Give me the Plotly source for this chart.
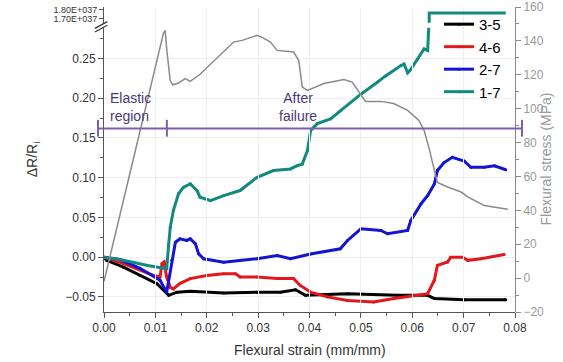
import plotly.graph_objects as go

# ---------------- data ----------------
stress_strain = [0.0, 0.0057, 0.01157, 0.0119, 0.01223, 0.01288, 0.01337, 0.01444, 0.0158, 0.01678,
                 0.0187, 0.02523, 0.02687, 0.0298, 0.0308, 0.0324, 0.0337, 0.0369, 0.0379, 0.0386,
                 0.0396, 0.0428, 0.0467, 0.0483, 0.0496, 0.0509, 0.0539, 0.0564, 0.0591, 0.0613,
                 0.0623, 0.0633, 0.0643, 0.0649, 0.0669, 0.0695, 0.0708, 0.0740, 0.0786]
stress_mpa = [-2.0, 69.5, 144.5, 146.2, 134.4, 116.7, 114.1, 115.0, 117.7, 116.1,
              120.3, 139.3, 140.3, 143.3, 142.1, 139.3, 134.4, 133.4, 128.5, 112.8,
              110.8, 114.8, 117.2, 115.7, 109.7, 104.3, 104.3, 103.0, 99.0, 93.1,
              87.2, 76.4, 63.6, 56.5, 53.8, 50.8, 47.9, 42.9, 40.6]

s35_x = [0.0, 0.0005, 0.0038, 0.007, 0.0103, 0.0126, 0.0142, 0.0168, 0.0233, 0.0298, 0.0343,
         0.0373, 0.0392, 0.0474, 0.0571, 0.063, 0.0643, 0.0701, 0.0782]
s35_y = [0.0, -0.004, -0.0126, -0.023, -0.0334, -0.048, -0.044, -0.043, -0.045, -0.044, -0.044,
         -0.041, -0.048, -0.046, -0.048, -0.048, -0.052, -0.0535, -0.0535]

s46_x = [0.0, 0.0038, 0.0096, 0.0109, 0.0113, 0.0117, 0.0122, 0.0129, 0.0135, 0.0148, 0.0168,
         0.020, 0.0233, 0.0256, 0.0265, 0.0298, 0.0337, 0.0369, 0.0382, 0.0402, 0.0435, 0.0474,
         0.0525, 0.0564, 0.061, 0.063, 0.0643, 0.0649, 0.0669, 0.0675, 0.0698, 0.0708, 0.0734, 0.0779]
s46_y = [0.0, -0.008, -0.023, -0.025, -0.008, -0.006, -0.025, -0.038, -0.040, -0.033, -0.027,
         -0.023, -0.021, -0.021, -0.025, -0.025, -0.027, -0.027, -0.0356, -0.044, -0.050, -0.0544,
         -0.0565, -0.052, -0.048, -0.046, -0.029, -0.0104, -0.006, 0.0, 0.0, -0.004, -0.002, 0.0034]

s27_x = [0.0, 0.0031, 0.007, 0.0109, 0.0122, 0.0132, 0.0139, 0.0148, 0.0161, 0.0168, 0.0178,
         0.0184, 0.0194, 0.0233, 0.0265, 0.0298, 0.0337, 0.0363, 0.0402, 0.046, 0.0474, 0.050,
         0.0539, 0.0552, 0.0591, 0.0597, 0.0617, 0.063, 0.0643, 0.0649, 0.0662, 0.0678, 0.0701,
         0.0714, 0.074, 0.076, 0.0782]
s27_y = [0.0, -0.003, -0.014, -0.029, -0.044, -0.004, 0.0188, 0.0231, 0.021, 0.023, 0.0168,
         0.0043, -0.002, -0.0063, -0.004, -0.002, 0.002, -0.002, 0.004, 0.0105, 0.021, 0.0357,
         0.0335, 0.0294, 0.0335, 0.046, 0.067, 0.0775, 0.092, 0.109, 0.119, 0.1256, 0.121,
         0.113, 0.113, 0.115, 0.110]

s17_x = [0.0, 0.0038, 0.0085, 0.0116, 0.0122, 0.0126, 0.0129, 0.0135, 0.0145, 0.0155, 0.0168,
         0.0181, 0.0187, 0.0207, 0.0233, 0.0265, 0.0298, 0.0330, 0.0363, 0.0376, 0.0386, 0.0396,
         0.0402, 0.0415, 0.0441, 0.046, 0.050, 0.0532, 0.0548, 0.0578, 0.0584, 0.0591, 0.0597,
         0.061, 0.0623, 0.063, 0.0633]
s17_y = [0.0, -0.004, -0.0104, -0.0133, -0.0146, 0.0168, 0.0377, 0.0587, 0.0797, 0.088, 0.0922,
         0.0838, 0.0754, 0.0712, 0.0775, 0.0838, 0.1005, 0.109, 0.111, 0.115, 0.117, 0.134,
         0.159, 0.168, 0.174, 0.184, 0.205, 0.220, 0.228, 0.241, 0.243, 0.232, 0.236,
         0.249, 0.262, 0.260, 0.30]
s17_fail_x = [0.0633, 0.0633, 0.0782]
s17_fail_y = [1.5e37, 1.765e37, 1.765e37]

x_ticks = [0.00, 0.01, 0.02, 0.03, 0.04, 0.05, 0.06, 0.07, 0.08]
left_ticks = [-0.05, 0.00, 0.05, 0.10, 0.15, 0.20, 0.25]
right_ticks = [-20, 0, 20, 40, 60, 80, 100, 120, 140, 160]
break_ticks = [1.7e37, 1.8e37]
break_labels = ["1.70E+037", "1.80E+037"]

FONT = "Arial, Liberation Sans, sans-serif"
PURPLE = "#7d5fb2"
PURPLE_TXT = "#4a3a78"
GRAY = "#8a8a8a"

fig = go.Figure()

fig.add_trace(go.Scatter(x=stress_strain, y=stress_mpa, yaxis="y2", mode="lines",
                         line=dict(color=GRAY, width=1.5), showlegend=False, hoverinfo="skip"))

series = [("3-5", s35_x, s35_y, "#000000"),
          ("4-6", s46_x, s46_y, "#e5171c"),
          ("2-7", s27_x, s27_y, "#1414d2"),
          ("1-7", s17_x, s17_y, "#138a7e")]
for name, xs, ys, col in series:
    fig.add_trace(go.Scatter(x=xs, y=ys, name=name, mode="lines+markers", yaxis="y",
                             line=dict(color=col, width=3), marker=dict(size=3, color=col)))

fig.add_trace(go.Scatter(x=s17_fail_x, y=s17_fail_y, yaxis="y3", mode="lines",
                         line=dict(color="#138a7e", width=3), showlegend=False))

tickfont = dict(family=FONT, size=12, color="#333")

fig.update_layout(
    width=563, height=362,
    margin=dict(l=104, r=48, t=7, b=50, autoexpand=False),
    paper_bgcolor="white", plot_bgcolor="rgba(0,0,0,0)",
    font=dict(family=FONT, color="#333"),
    xaxis=dict(range=[0, 0.08], tickvals=x_ticks, tickformat=".2f", anchor="y", automargin=False,
               showline=True, ticks="outside", ticklen=5, tickfont=tickfont,
               linecolor="#555", tickcolor="#555", showgrid=True, gridcolor="#efefef",
               minor=dict(ticks="outside", ticklen=3, dtick=0.005, tickcolor="#555"),
               zeroline=False),
    yaxis=dict(domain=[0, 0.932], range=[-0.069, 0.2886], tickvals=left_ticks, tickformat=".2f",
               automargin=False, showline=True, ticks="outside", ticklen=5, tickfont=tickfont,
               linecolor="#555", tickcolor="#555", showgrid=True, gridcolor="#efefef",
               minor=dict(ticks="outside", ticklen=3, tickvals=[-0.025, 0.025, 0.075, 0.125, 0.175, 0.225, 0.275],
                          tickcolor="#555"),
               zeroline=False, anchor="x"),
    yaxis2=dict(domain=[0, 1], range=[-20, 160], tickvals=right_ticks, side="right", anchor="x",
                automargin=False, showline=True, linecolor=GRAY, ticks="outside", ticklen=5, tickcolor=GRAY,
                tickfont=dict(family=FONT, size=12, color="#999"),
                minor=dict(ticks="outside", ticklen=3, dtick=10, tickcolor=GRAY),
                showgrid=False, zeroline=False),
    yaxis3=dict(domain=[0.948, 1], range=[1.6556e37, 1.8333e37], tickvals=break_ticks, ticktext=break_labels,
                anchor="x", automargin=False, showline=True, linecolor="#555", ticks="outside", ticklen=4,
                tickcolor="#555", tickfont=dict(family=FONT, size=9, color="#333"),
                showgrid=False, zeroline=False),
    legend=dict(x=0.815, y=0.997, xanchor="left", yanchor="top", bgcolor="rgba(0,0,0,0)",
                font=dict(family=FONT, size=15, color="#000"), tracegroupgap=0),
)

# axis titles as annotations
fig.add_annotation(text="ΔR/R<sub>i</sub>", xref="paper", yref="paper", x=-0.2, y=0.5,
                   textangle=-90, showarrow=False, font=dict(family=FONT, size=14, color="#333"))
fig.add_annotation(text="Flexural strain (mm/mm)", xref="paper", yref="paper", x=0.5, y=-0.125,
                   yanchor="middle", showarrow=False, font=dict(family=FONT, size=14, color="#333"))
fig.add_annotation(text="Flexural stress (MPa)", xref="paper", yref="paper", x=1.073, y=0.5,
                   textangle=-90, xanchor="center", showarrow=False, font=dict(family=FONT, size=14, color="#999"))

# axis break marks
for dy in (0.0, 0.012):
    fig.add_shape(type="line", xref="paper", yref="paper", x0=-0.022, x1=0.008,
                  y0=0.918 + dy, y1=0.94 + dy, line=dict(color="#333", width=1.2))

# purple bracket line
fig.add_shape(type="line", xref="paper", yref="paper", x0=-0.0146, x1=1.017, y0=0.602, y1=0.602,
              line=dict(color=PURPLE, width=2))
for xp in (-0.0146, 0.153, 1.017):
    fig.add_shape(type="line", xref="paper", yref="paper", x0=xp, x1=xp, y0=0.575, y1=0.63,
                  line=dict(color=PURPLE, width=2))

fig.add_annotation(text="Elastic<br>region", xref="paper", yref="paper", x=0.01, y=0.61,
                   xanchor="left", yanchor="bottom", showarrow=False, align="left",
                   font=dict(family=FONT, size=14, color=PURPLE_TXT))
fig.add_annotation(text="After<br>failure", xref="paper", yref="paper", x=0.472, y=0.61,
                   xanchor="center", yanchor="bottom", showarrow=False, align="center",
                   font=dict(family=FONT, size=14, color=PURPLE_TXT))

fig.write_html("out.html", config={"displayModeBar": False},
               post_script="document.body.style.margin='0px';")
